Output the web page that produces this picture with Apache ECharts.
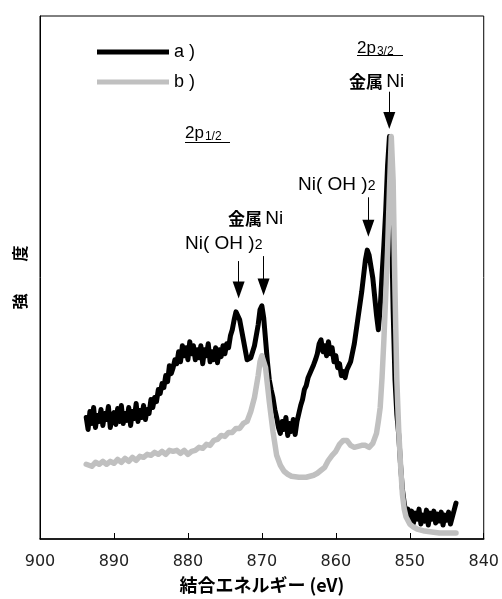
<!DOCTYPE html>
<html>
<head>
<meta charset="utf-8">
<script src="https://cdn.jsdelivr.net/npm/echarts@6/dist/echarts.min.js"></script>
<style>
html,body{margin:0;padding:0;background:#fff;}
#chart{width:502px;height:599px;}
</style>
</head>
<body>
<div id="chart"></div>
<script>
// ---- data ----
var xTicks = [900, 890, 880, 870, 860, 850, 840];
var seriesNames = ['a )', 'b )'];

var energyA = [
  893.75, 893.5, 893.25, 893, 892.75, 892.5, 892.25, 892, 891.75, 891.5, 891.25, 891, 890.75, 890.5, 890.25, 890,
  889.75, 889.5, 889.25, 889, 888.75, 888.5, 888.25, 888, 887.75, 887.5, 887.25, 887, 886.75, 886.5, 886.25, 886,
  885.75, 885.5, 885.25, 885, 884.75, 884.5, 884.25, 884, 883.75, 883.5, 883.25, 883, 882.75, 882.5, 882.25, 882,
  881.75, 881.5, 881.25, 881, 880.75, 880.5, 880.25, 880, 879.75, 879.5, 879.25, 879, 878.75, 878.5, 878.25, 878,
  877.75, 877.5, 877.25, 877, 876.75, 876.5, 876.25, 876, 875.75, 875.5, 875.25, 875, 874.75, 874.5, 874.25, 874,
  873.75, 873.5, 873, 872.5, 872, 871.5, 871, 870.5, 870.25, 870, 869.75, 869.5, 869.25, 869, 868.75, 868.5, 868.25,
  868, 867.75, 867.5, 867.25, 867, 866.75, 866.5, 866.25, 866, 865.75, 865.5, 865.25, 865, 864.75, 864.5, 864.25, 864,
  863.75, 863.5, 863, 862.75, 862.5, 862.25, 862, 861.75, 861.5, 861.25, 861, 860.75, 860.5, 860.25, 860, 859.75,
  859.5, 859.25, 859, 858.75, 858.5, 858.25, 858, 857.5, 857, 856.5, 856, 855.75, 855.5, 855, 854.5, 854.25, 854,
  853.75, 853.5, 853.25, 853, 852.75, 852.5, 852.25, 852, 851.75, 851.5, 851.25, 851, 850.75, 850.5, 850.25, 850,
  849.75, 849.5, 849.25, 849, 848.75, 848.5, 848.25, 848, 847.75, 847.5, 847.25, 847, 846.75, 846.5, 846.25, 846,
  845.75, 845.5, 845.25, 845, 844.75, 844.5, 844.25, 844, 843.75
];
var intensityA = [
  122, 110, 128, 116, 132, 112, 124, 118, 130, 114, 126, 120, 133, 112, 122, 127,
  115, 131, 118, 134, 116, 126, 119, 132, 114, 128, 121, 136, 118, 129, 122, 134,
  120, 130, 126, 140, 132, 142, 138, 150, 146, 156, 152, 164, 158, 174, 166, 172,
  180, 176, 188, 178, 194, 184, 192, 180, 198, 186, 194, 180, 190, 182, 194, 176,
  190, 184, 196, 178, 188, 180, 192, 177, 190, 183, 194, 186, 196, 192, 204, 210,
  220, 228, 220, 200, 180, 182, 194, 215, 230, 234, 222, 200, 178, 160, 150, 142, 130,
  122, 112, 106, 118, 110, 122, 104, 116, 108, 120, 105, 118, 126, 134, 140, 150, 154,
  162, 160, 175, 180, 186, 196, 200, 188, 194, 184, 198, 186, 192, 178, 184, 172,
  176, 164, 168, 162, 170, 168, 178, 196, 222, 248, 280, 290, 285, 262, 225, 210, 232,
  265, 295, 330, 375, 404, 330, 230, 160, 125, 105, 75, 50, 36, 24, 30, 20,
  28, 16, 26, 20, 30, 15, 24, 18, 29, 14, 26, 20, 28, 16, 25, 18,
  27, 14, 24, 19, 27, 15, 22, 20, 36
];

var energyB = [
  893.75, 893.5, 893, 892.5, 892, 891.5, 891, 890.5, 890, 889.5, 889, 888.5, 888, 887.5, 887, 886.5, 886, 885.5, 885,
  884.5, 884, 883.5, 883, 882.5, 882, 881.5, 881, 880.5, 880, 879.5, 879, 878.5, 878, 877.5, 877, 876.5, 876, 875.5, 875,
  874.5, 874, 873.5, 873, 872.5, 872, 871.5, 871, 870.5, 870.25, 870, 869.75, 869.5, 869.25, 869, 868.5, 868, 867.5, 867,
  866.5, 866, 865, 864, 863, 862.5, 862, 861.5, 861, 860.5, 860, 859.5, 859, 858.5, 858, 857.5, 857, 856.5, 856, 855.5,
  855, 854.5, 854.25, 854, 853.75, 853.5, 853.25, 853, 852.75, 852.5, 852.25, 852, 851.75, 851.5, 851.25, 851, 850.75,
  850.5, 850, 849.5, 849, 848, 847, 846, 845, 844, 843.75
];
var intensityB = [
  75, 77, 73, 77, 75, 78, 75, 78, 76, 80, 77, 81, 78, 82, 79, 83, 82, 85, 84,
  87, 85, 88, 85, 89, 88, 89, 86, 89, 85, 88, 89, 92, 91, 95, 94, 99, 100, 104, 103,
  107, 107, 111, 111, 116, 118, 128, 142, 164, 178, 184, 183, 172, 155, 138, 108, 84, 74, 68,
  65, 63, 62, 62, 64, 66, 69, 72, 79, 84, 88, 95, 99, 99, 94, 92, 93, 94, 94, 92,
  96, 106, 118, 132, 162, 200, 245, 290, 350, 404, 360, 250, 160, 110, 75, 45, 30,
  22, 15, 12, 10, 8, 7, 6, 6, 6, 6
];

// annotation arrows: [energy, start intensity, end intensity]
var arrowE = [852.77, 855.6, 873.14, 869.77];
var arrowFrom = [449, 343, 279, 284];
var arrowTo = [420, 312, 250, 253];

function pairs(xs, ys) {
  var out = [];
  for (var i = 0; i < xs.length; i++) out.push([xs[i], ys[i]]);
  return out;
}

var latin = '"Liberation Sans", Arial, "Noto Sans CJK JP", sans-serif';
var cjk = '"Noto Sans CJK JP", "Liberation Sans", sans-serif';

var arrowLines = [];
for (var k = 0; k < arrowE.length; k++) {
  arrowLines.push([{coord: [arrowE[k], arrowFrom[k]]}, {coord: [arrowE[k], arrowTo[k]]}]);
}

var chart = echarts.init(document.getElementById('chart'), null, {renderer: 'canvas'});
var option = {
  animation: false,
  backgroundColor: '#fff',
  grid: {left: 40, right: 17, top: 16, bottom: 58, show: true, borderColor: '#000', borderWidth: 1, backgroundColor: 'transparent'},
  legend: {
    orient: 'vertical', left: 92, top: 38, itemWidth: 72, itemHeight: 5, itemGap: 12,
    icon: 'rect',
    data: seriesNames,
    textStyle: {fontSize: 18, color: '#000', fontFamily: latin}
  },
  xAxis: {
    type: 'value', min: 840, max: 900, interval: 10, inverse: true,
    axisLine: {show: true, lineStyle: {color: '#000', width: 1.5}},
    axisTick: {show: true, inside: true, length: 6, lineStyle: {color: '#000', width: 1}},
    splitLine: {show: false},
    axisLabel: {fontSize: 16, color: '#222', margin: 15, fontFamily: '"DejaVu Sans", sans-serif'},
    name: '結合エネルギー (eV)', nameLocation: 'middle', nameGap: 37,
    nameTextStyle: {fontSize: 18, fontWeight: 'bold', color: '#000', fontFamily: cjk}
  },
  yAxis: {
    type: 'value', min: 0, max: 525,
    axisLine: {show: true, lineStyle: {color: '#000', width: 1}},
    axisTick: {show: false}, axisLabel: {show: false}, splitLine: {show: false},
    name: '強　　度', nameLocation: 'middle', nameGap: 12, nameRotate: 90,
    nameTextStyle: {fontSize: 16, fontWeight: 'bold', color: '#000', fontFamily: cjk}
  },
  series: [
    {
      name: seriesNames[0], type: 'line', data: pairs(energyA, intensityA),
      showSymbol: false, symbol: 'none', itemStyle: {color: '#000'},
      lineStyle: {color: '#000', width: 5, join: 'round', cap: 'round'},
      z: 2,
      markLine: {
        silent: true, symbol: ['none', 'triangle'], symbolSize: [12, 17],
        label: {show: false},
        lineStyle: {color: '#000', width: 1, type: 'solid'},
        itemStyle: {color: '#000'},
        data: arrowLines
      }
    },
    {
      name: seriesNames[1], type: 'line', data: pairs(energyB, intensityB),
      showSymbol: false, symbol: 'none', itemStyle: {color: '#c0c0c0'},
      lineStyle: {color: '#c0c0c0', width: 5.5, join: 'round', cap: 'round'},
      z: 3
    }
  ],
  graphic: [
    {type: 'text', left: 357, top: 40, z: 10, style: {text: '{m|2p}{s|3/2}', rich: {m: {fontSize: 17, fontFamily: latin, fill: '#000'}, s: {fontSize: 12, fontFamily: latin, fill: '#000', padding: [6, 0, 0, 1]}}}},
    {type: 'line', z: 10, shape: {x1: 357, y1: 55.5, x2: 403, y2: 55.5}, style: {stroke: '#000', lineWidth: 1}},
    {type: 'text', left: 349, top: 72, z: 10, style: {text: '{b|金属} {n|Ni}', rich: {b: {fontSize: 17, fontWeight: 'bold', fontFamily: cjk, fill: '#000'}, n: {fontSize: 19, fontFamily: latin, fill: '#000'}}}},
    {type: 'text', left: 185, top: 125, z: 10, style: {text: '{m|2p}{s|1/2}', rich: {m: {fontSize: 17, fontFamily: latin, fill: '#000'}, s: {fontSize: 12, fontFamily: latin, fill: '#000', padding: [6, 0, 0, 1]}}}},
    {type: 'line', z: 10, shape: {x1: 185, y1: 142.5, x2: 230, y2: 142.5}, style: {stroke: '#000', lineWidth: 1}},
    {type: 'text', left: 228, top: 209, z: 10, style: {text: '{b|金属} {n|Ni}', rich: {b: {fontSize: 17, fontWeight: 'bold', fontFamily: cjk, fill: '#000'}, n: {fontSize: 19, fontFamily: latin, fill: '#000'}}}},
    {type: 'text', left: 185, top: 234, z: 10, style: {text: '{n|Ni( OH )}{s|2}', rich: {n: {fontSize: 19, fontFamily: latin, fill: '#000'}, s: {fontSize: 14, fontFamily: latin, fill: '#000', padding: [4, 0, 0, 0]}}}},
    {type: 'text', left: 298, top: 175, z: 10, style: {text: '{n|Ni( OH )}{s|2}', rich: {n: {fontSize: 19, fontFamily: latin, fill: '#000'}, s: {fontSize: 14, fontFamily: latin, fill: '#000', padding: [4, 0, 0, 0]}}}}
  ]
};
chart.setOption(option);
</script>
</body>
</html>
